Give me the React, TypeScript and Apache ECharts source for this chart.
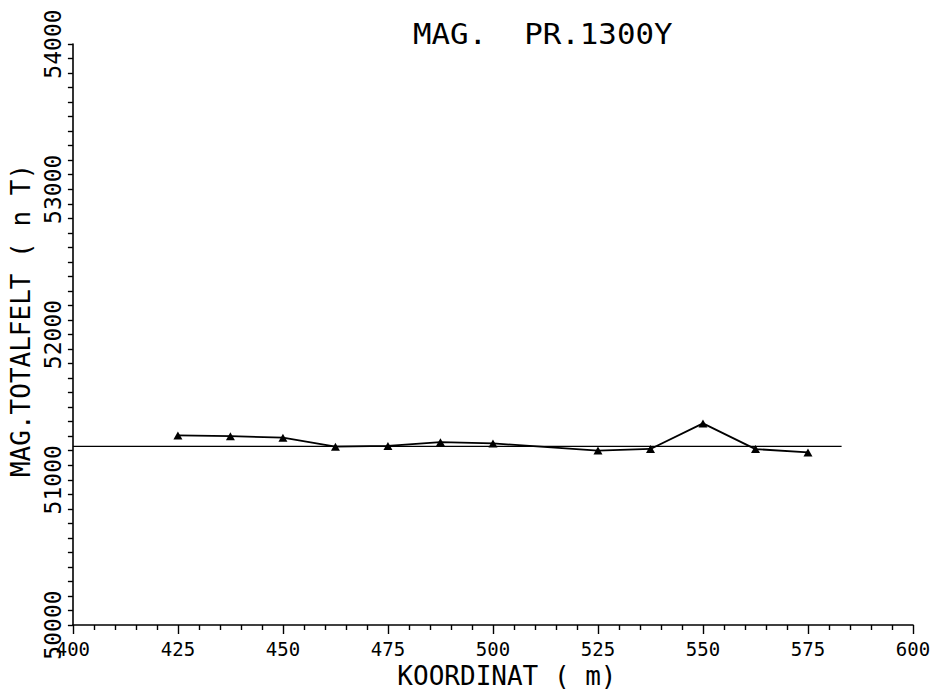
import React, { useEffect, useRef } from "react";
import * as echarts from "echarts";

// Profile coordinates (m) and total magnetic field (nT)
const koordinat = [425, 437.5, 450, 462.5, 475, 487.5, 500, 525, 537.5, 550, 562.5, 575];
const totalfelt = [51305, 51300, 51290, 51228, 51233, 51259, 51250, 51201, 51212, 51388, 51211, 51188];

// Horizontal reference level
const refX = [400, 583];
const refLevel = 51230;

const xMin = 400;
const xMax = 600;
const xStep = 25;
const yMin = 50000;
const yMax = 54000;
const yStep = 1000;

const titleText = "MAG.  PR.1300Y";
const xName = "KOORDINAT ( m)";
const yName = "MAG.TOTALFELT ( n T)";

const FONT = "'DejaVu Sans Mono', 'Liberation Mono', monospace";

export default function App() {
  const ref = useRef<HTMLDivElement>(null);
  useEffect(() => {
    if (!ref.current) return;
    const chart = echarts.init(ref.current, null, { renderer: "svg" });
    const lineData = koordinat.map((x, i) => [x, totalfelt[i]]);
    const refData = refX.map((x) => [x, refLevel]);
    chart.setOption({
      animation: false,
      backgroundColor: "#ffffff",
      grid: { left: 70, right: 25, top: 44, bottom: 71, containLabel: false },
      graphic: [
        {
          type: "text",
          left: 413,
          top: 20,
          scaleX: 1.1,
          style: {
            text: titleText,
            fill: "#000",
            font: `28px ${FONT}`,
          },
        },
      ],
      xAxis: {
        type: "value",
        min: xMin,
        max: xMax,
        interval: xStep,
        name: xName,
        nameLocation: "middle",
        nameGap: 34,
        nameTextStyle: {
          color: "#000",
          fontFamily: FONT,
          fontSize: 26,
          padding: [0, 0, 0, 28],
        },
        axisLine: { show: true, lineStyle: { color: "#000", width: 1.6 } },
        axisTick: { show: true, inside: false, length: 9, lineStyle: { color: "#000", width: 1.4 } },
        minorTick: { show: true, splitNumber: 5, length: 5, lineStyle: { color: "#000", width: 1.4 } },
        splitLine: { show: false },
        axisLabel: {
          color: "#000",
          fontFamily: FONT,
          fontSize: 19,
          margin: 14,
          formatter: (v: number) => String(v),
        },
      },
      yAxis: {
        type: "value",
        min: yMin,
        max: yMax,
        interval: yStep,
        name: yName,
        nameLocation: "middle",
        nameGap: 38,
        nameRotate: 90,
        nameTextStyle: {
          color: "#000",
          fontFamily: FONT,
          fontSize: 26,
          padding: [0, 0, 0, 28],
        },
        axisLine: { show: true, lineStyle: { color: "#000", width: 1.6 } },
        axisTick: { show: true, inside: false, length: 5, lineStyle: { color: "#000", width: 1.4 } },
        minorTick: { show: true, splitNumber: 10, length: 5, lineStyle: { color: "#000", width: 1.4 } },
        splitLine: { show: false },
        axisLabel: {
          color: "#000",
          fontFamily: FONT,
          fontSize: 23,
          rotate: 90,
          margin: 8,
          formatter: (v: number) => String(v),
        },
      },
      series: [
        {
          type: "line",
          data: refData,
          symbol: "none",
          lineStyle: { color: "#000", width: 1.3 },
          silent: true,
        },
        {
          type: "line",
          data: lineData,
          symbol: "triangle",
          symbolSize: [9, 8],
          itemStyle: { color: "#000" },
          lineStyle: { color: "#000", width: 1.8 },
        },
      ],
    });
    return () => chart.dispose();
  }, []);
  return (
    <div
      ref={ref}
      style={{ position: "absolute", left: 0, top: 0, width: 938, height: 696, background: "#fff" }}
    />
  );
}
